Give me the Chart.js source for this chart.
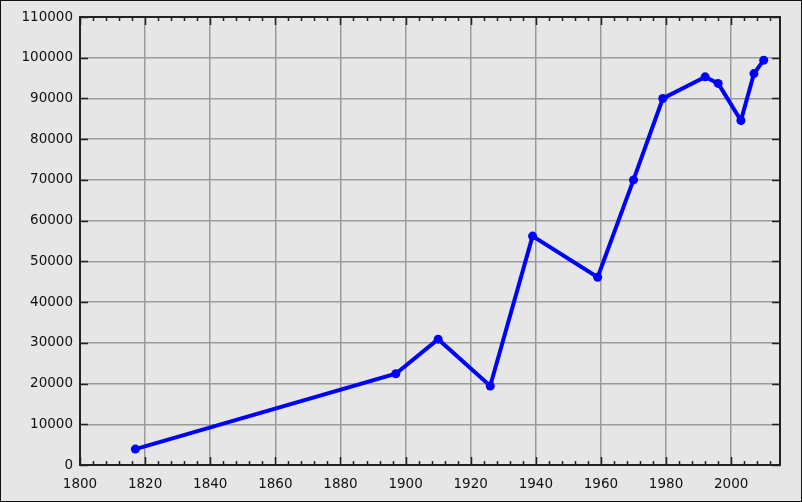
<!DOCTYPE html>
<html>
<head>
<meta charset="utf-8">
<script src="https://cdn.jsdelivr.net/npm/chart.js@4"></script>
<style>
  html, body { margin: 0; padding: 0; background: #e6e6e6; }
  #wrap { width: 802px; height: 502px; }
</style>
</head>
<body>
<div id="wrap"><canvas id="c" width="802" height="502"></canvas></div>
<script>
const years = [1817, 1897, 1910, 1926, 1939, 1959, 1970, 1979, 1992, 1996, 2003, 2007, 2010];
const population = [3900, 22400, 30900, 19400, 56200, 46100, 70000, 90000, 95300, 93700, 84600, 96100, 99400];
const xTickValues = [1800, 1820, 1840, 1860, 1880, 1900, 1920, 1940, 1960, 1980, 2000];
const yTickValues = [0, 10000, 20000, 30000, 40000, 50000, 60000, 70000, 80000, 90000, 100000, 110000];
const xMinorStep = 4;
const xRange = [1800, 2015];

const points = years.map((y, i) => ({ x: y, y: population[i] }));

const framePlugin = {
  id: 'frame',
  beforeDraw(chart) {
    const ctx = chart.ctx;
    ctx.save();
    ctx.fillStyle = '#e6e6e6';
    ctx.fillRect(0, 0, chart.width, chart.height);
    ctx.restore();
  },
  beforeDatasetsDraw(chart) {
    const ctx = chart.ctx;
    const a = chart.chartArea;
    const xs = chart.scales.x, ys = chart.scales.y;
    ctx.save();
    ctx.strokeStyle = '#222';
    ctx.lineWidth = 1.5;
    for (let v = xRange[0]; v <= xRange[1]; v += xMinorStep) {
      const px = Math.round(xs.getPixelForValue(v)) + 0.5;
      const major = xTickValues.includes(v);
      const len = major ? 8 : 4;
      ctx.beginPath();
      ctx.moveTo(px, a.bottom); ctx.lineTo(px, a.bottom - len);
      ctx.moveTo(px, a.top); ctx.lineTo(px, a.top + len);
      ctx.stroke();
    }
    yTickValues.forEach(v => {
      const py = Math.round(ys.getPixelForValue(v)) + 0.5;
      ctx.beginPath();
      ctx.moveTo(a.left, py); ctx.lineTo(a.left + 8, py);
      ctx.moveTo(a.right, py); ctx.lineTo(a.right - 8, py);
      ctx.stroke();
    });
    ctx.lineWidth = 2;
    ctx.strokeStyle = '#222';
    ctx.strokeRect(a.left, a.top, a.right - a.left, a.bottom - a.top);
    ctx.restore();
  },
  afterDraw(chart) {
    const ctx = chart.ctx;
    ctx.save();
    ctx.strokeStyle = '#111';
    ctx.lineWidth = 1;
    ctx.strokeRect(0.5, 0.5, chart.width - 1, chart.height - 1);
    ctx.restore();
  }
};

new Chart(document.getElementById('c'), {
  type: 'scatter',
  data: {
    datasets: [{
      data: points,
      showLine: true,
      borderColor: '#0000ff',
      backgroundColor: '#0000ff',
      borderWidth: 4,
      pointRadius: 4.5,
      pointBorderWidth: 0,
      pointHoverRadius: 4.5,
      tension: 0
    }]
  },
  options: {
    responsive: false,
    devicePixelRatio: 1,
    animation: false,
    events: [],
    layout: { padding: { top: 17, right: 22, left: 0, bottom: 0 } },
    plugins: { legend: { display: false }, tooltip: { enabled: false } },
    scales: {
      x: {
        type: 'linear',
        min: xRange[0],
        max: xRange[1],
        afterBuildTicks(scale) {
          scale.ticks = xTickValues.map(v => ({ value: v }));
        },
        afterFit(scale) { scale.height = 37; },
        ticks: {
          color: '#111',
          font: { family: 'DejaVu Sans', size: 13.5 },
          padding: 11,
          maxRotation: 0,
          autoSkip: false,
          callback: v => String(v)
        },
        grid: { color: '#9a9a9a', lineWidth: 1.5, drawTicks: false },
        border: { display: false }
      },
      y: {
        type: 'linear',
        min: 0,
        max: 110000,
        afterBuildTicks(scale) {
          scale.ticks = yTickValues.map(v => ({ value: v }));
        },
        afterFit(scale) { scale.width = 80; },
        ticks: {
          color: '#111',
          font: { family: 'DejaVu Sans', size: 13.5 },
          padding: 7,
          autoSkip: false,
          callback: v => String(v)
        },
        grid: { color: '#9a9a9a', lineWidth: 1.5, drawTicks: false },
        border: { display: false }
      }
    }
  },
  plugins: [framePlugin]
});
</script>
</body>
</html>
